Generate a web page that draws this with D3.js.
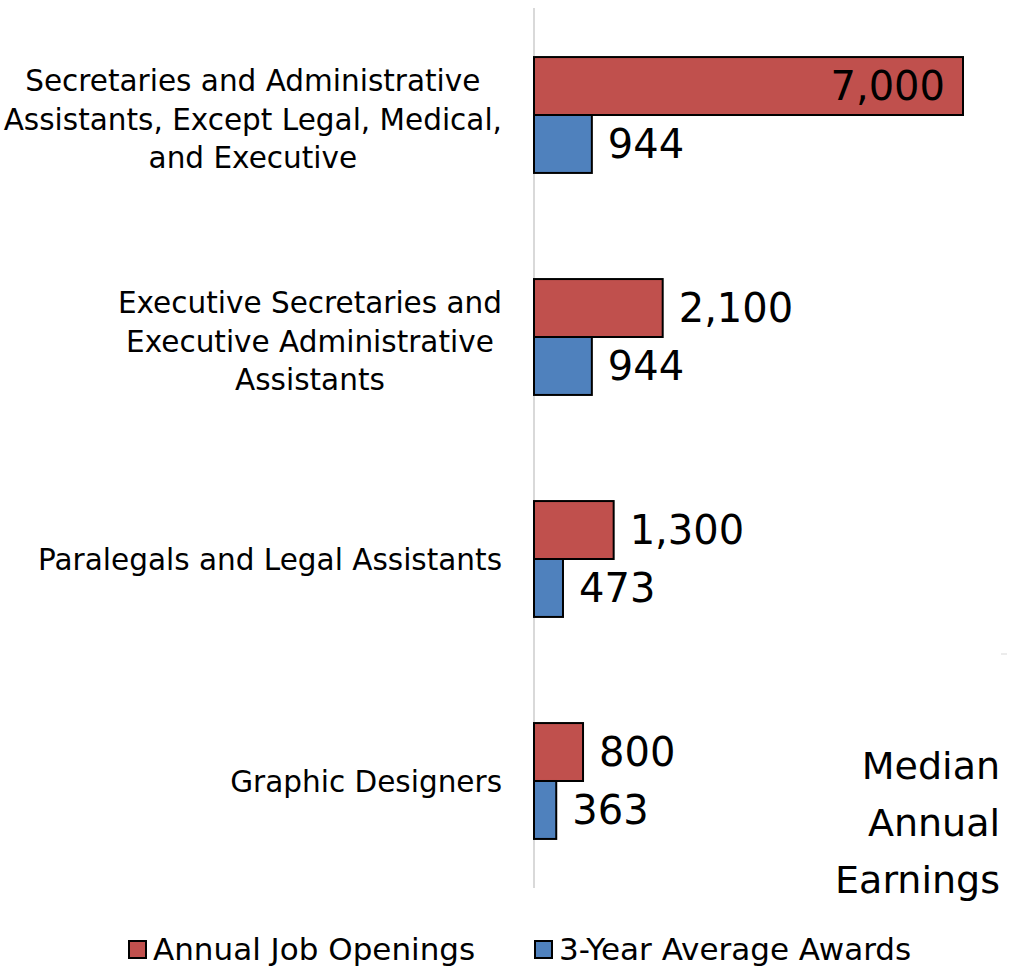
<!DOCTYPE html>
<html>
<head>
<meta charset="utf-8">
<script src="https://cdn.jsdelivr.net/npm/d3@7"></script>
<style>
  html, body { margin: 0; padding: 0; background: #fff; }
  svg { display: block; font-family: "DejaVu Sans", sans-serif; }
</style>
</head>
<body>
<div id="chart"></div>
<script>
(function () {
  "use strict";

  const categories = [
    ["Secretaries and Administrative", "Assistants, Except Legal, Medical,", "and Executive"],
    ["Executive Secretaries and", "Executive Administrative", "Assistants"],
    ["Paralegals and Legal Assistants"],
    ["Graphic Designers"]
  ];
  const seriesNames = ["Annual Job Openings", "3-Year Average Awards"];
  const jobOpenings = [7000, 2100, 1300, 800];
  const averageAwards = [944, 944, 473, 363];
  const colors = ["#c0504d", "#4f81bd"];
  const sideNote = ["Median", "Annual", "Earnings"];

  const width = 1009, height = 966;
  const svg = d3.select("#chart").append("svg")
    .attr("width", width).attr("height", height);

  const x = d3.scaleLinear().domain([0, 7000]).range([534, 963]);
  const y = d3.scaleBand()
    .domain(d3.range(categories.length))
    .range([4, 892])
    .paddingInner(0.478)
    .paddingOuter(0.239);
  const sub = d3.scaleBand().domain([0, 1]).range([0, y.bandwidth()]);

  const rows = categories.map((lines, i) => ({
    lines, values: [jobOpenings[i], averageAwards[i]], i
  }));

  // axis line
  svg.append("line")
    .attr("x1", x(0)).attr("x2", x(0))
    .attr("y1", 8).attr("y2", 888)
    .attr("stroke", "#d9d9d9").attr("stroke-width", 2);

  const groups = svg.selectAll("g.row").data(rows).join("g")
    .attr("class", "row")
    .attr("transform", d => `translate(0,${y(d.i)})`);

  const bars = groups.selectAll("g.bar")
    .data(d => d.values.map((v, s) => ({ v, s })))
    .join("g").attr("class", "bar");

  bars.append("rect")
    .attr("x", x(0))
    .attr("y", d => sub(d.s))
    .attr("width", d => x(d.v) - x(0))
    .attr("height", sub.bandwidth())
    .attr("fill", d => colors[d.s])
    .attr("stroke", "#000").attr("stroke-width", 2);

  const fmt = d3.format(",");
  bars.append("text")
    .attr("x", d => d.v >= 5000 ? x(d.v) - 18 : x(d.v) + 16)
    .attr("y", d => sub(d.s) + sub.bandwidth() / 2)
    .attr("dy", "0.36em")
    .attr("text-anchor", d => d.v >= 5000 ? "end" : "start")
    .attr("font-size", 40)
    .attr("fill", "#000")
    .text(d => fmt(d.v));

  // category labels, centred block right-aligned to the axis
  const lineH = 38.5;
  groups.each(function (d) {
    const g = d3.select(this);
    const t = g.append("text")
      .attr("font-size", 29.5)
      .attr("fill", "#000")
      .attr("text-anchor", "middle");
    const n = d.lines.length;
    const shift = n > 1 ? 4 : 0;
    const spans = t.selectAll("tspan").data(d.lines).join("tspan")
      .attr("y", (_, k) => y.bandwidth() / 2 + shift + (k - (n - 1) / 2) * lineH)
      .attr("dy", "0.36em")
      .text(s => s);
    const w = d3.max(spans.nodes(), node => node.getComputedTextLength());
    spans.attr("x", 502 - w / 2);
  });

  // side note
  svg.append("g").selectAll("text").data(sideNote).join("text")
    .attr("x", 1000)
    .attr("y", (_, k) => 765 + k * 57)
    .attr("dy", "0.36em")
    .attr("text-anchor", "end")
    .attr("font-size", 38)
    .attr("fill", "#000")
    .text(s => s);

  svg.append("line")
    .attr("x1", 1001).attr("x2", 1007)
    .attr("y1", 654).attr("y2", 654)
    .attr("stroke", "#d9d9d9").attr("stroke-width", 1);

  // legend
  const legendX = [129, 535];
  const legend = svg.append("g").selectAll("g").data(seriesNames).join("g")
    .attr("transform", (_, k) => `translate(${legendX[k]},949)`);
  legend.append("rect")
    .attr("x", 0).attr("y", -8)
    .attr("width", 17).attr("height", 17)
    .attr("fill", (_, k) => colors[k])
    .attr("stroke", "#000").attr("stroke-width", 2);
  legend.append("text")
    .attr("x", 24).attr("y", 0).attr("dy", "0.36em")
    .attr("font-size", 31)
    .attr("fill", "#000")
    .text(s => s);
})();
</script>
</body>
</html>
